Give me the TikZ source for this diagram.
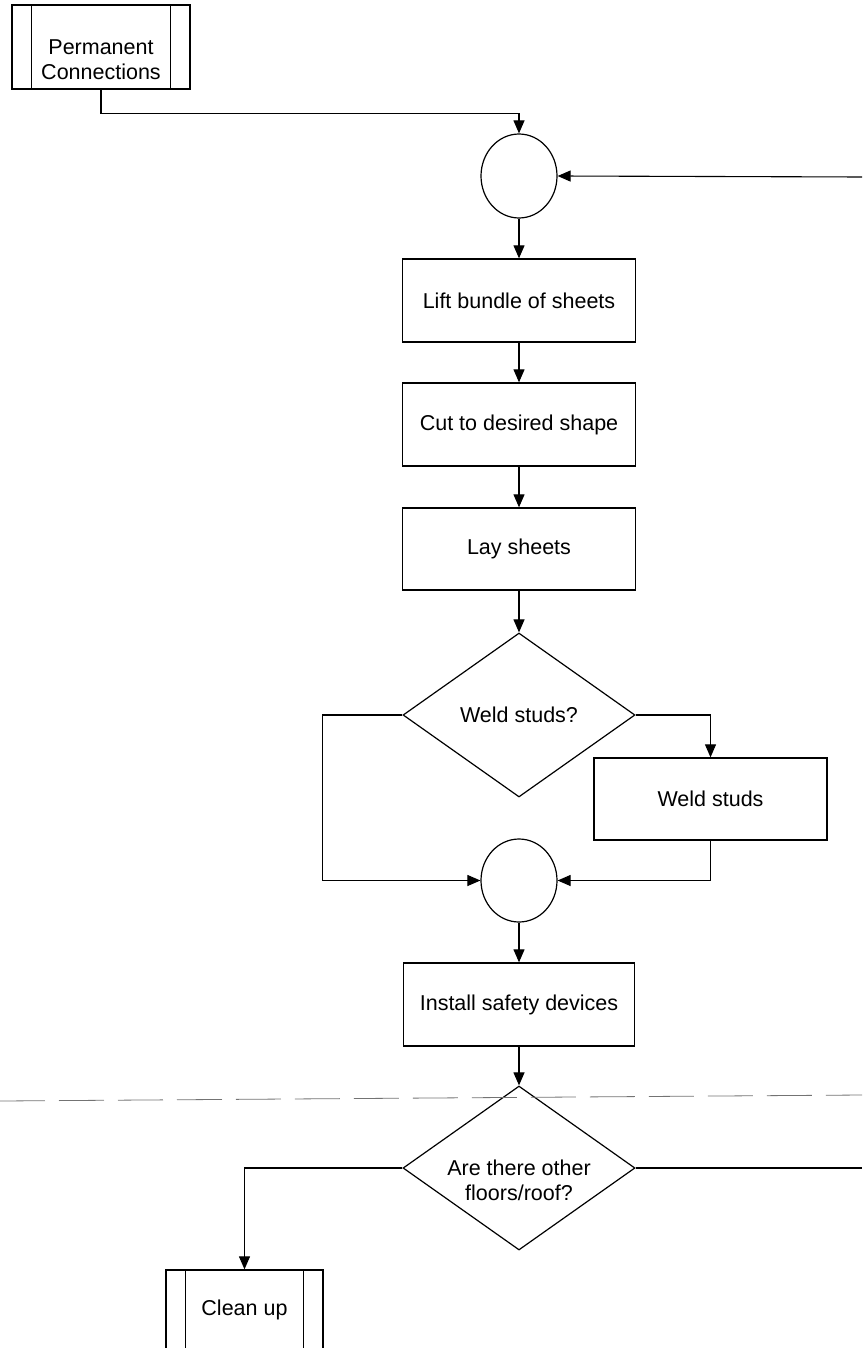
\documentclass[tikz,border=0pt]{standalone}
\usepackage{fontspec}
\setmainfont{Liberation Sans}
\usetikzlibrary{shapes.geometric,arrows.meta}
\begin{document}
\begin{tikzpicture}[x=1pt,y=-1pt,
  every node/.style={font=\fontsize{21.5}{25}\selectfont},
  box/.style={draw, line width=1.3pt, rectangle, inner sep=0pt},
  stepbox/.style={box, minimum width=233pt, minimum height=83pt},
  junction/.style={draw, line width=1.2pt, ellipse, minimum width=76pt, minimum height=84pt, inner sep=0pt},
  decision/.style={draw, line width=1.2pt, diamond, minimum width=232pt, minimum height=164pt, inner sep=0pt},
  flow/.style={line width=1.1pt, -{Triangle[length=13pt,width=11pt]}},
  link/.style={line width=1.1pt},
  fold/.style={black!55, line width=0.8pt, dash pattern=on 45pt off 14pt}]

\useasboundingbox (0,0) rectangle (862,1348);
\clip (0,0) rectangle (862,1348);

% predefined process: permanent connections
\node[box, minimum width=178pt, minimum height=84pt,
      label={[align=center, yshift=-13pt]center:Permanent\\Connections}] (perm) at (101,47) {};
\draw[link] ([xshift=20pt]perm.north west) -- ([xshift=20pt]perm.south west);
\draw[link] ([xshift=-20pt]perm.north east) -- ([xshift=-20pt]perm.south east);

% main column
\node[junction] (j1) at (519,176) {};
\coordinate (in1) at (862,177);
\node[stepbox] (lift) at (519,300.5) {Lift bundle of sheets};
\node[stepbox] (cut) at (519,424.5) {Cut to desired shape};
\node[stepbox, minimum height=82pt] (lay) at (519,549) {Lay sheets};
\node[decision] (q1) at (519,715) {Weld studs?};
\node[stepbox, minimum height=82pt] (weld) at (710.5,799) {Weld studs};
\node[junction, minimum height=83pt] (j2) at (519,880.5) {};
\node[stepbox, minimum width=231pt] (safe) at (519,1004.5) {Install safety devices};
\node[decision, label={[align=center, yshift=-12pt]center:Are there other\\floors/roof?}] (q2) at (519,1168) {};
\coordinate (out2) at (862,1168);

% predefined process: clean up
\node[box, minimum width=157pt, minimum height=80pt] (clean) at (244.5,1310) {Clean up};
\draw[link] ([xshift=20pt]clean.north west) -- ([xshift=20pt]clean.south west);
\draw[link] ([xshift=-20pt]clean.north east) -- ([xshift=-20pt]clean.south east);

% fold line across the page
\draw[fold] (0,1101) -- (862,1095);

% connectors
\draw[flow] (perm.south) -- ++(0,24) -| (j1.north);
\draw[flow] (in1) -- (j1.east);
\draw[flow] (j1.south) -- (lift.north);
\draw[flow] (lift.south) -- (cut.north);
\draw[flow] (cut.south) -- (lay.north);
\draw[flow] (lay.south) -- (q1.north);
\draw[flow] (q1.west) -- ++(-80,0) |- (j2.west);
\draw[flow] (q1.east) -| (weld.north);
\draw[flow] (weld.south) |- (j2.east);
\draw[flow] (j2.south) -- (safe.north);
\draw[flow] (safe.south) -- (q2.north);
\draw[flow] (q2.west) -| (clean.north);
\draw[link] (q2.east) -- (out2);
\end{tikzpicture}
\end{document}
